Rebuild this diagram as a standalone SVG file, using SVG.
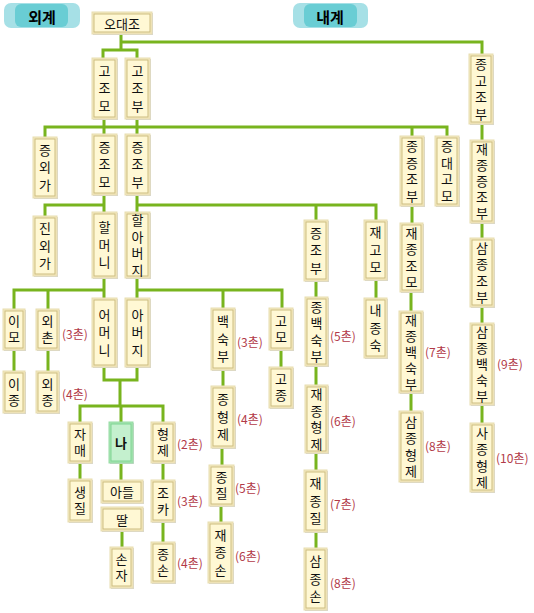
<svg xmlns="http://www.w3.org/2000/svg" width="534" height="613" viewBox="0 0 534 613">
<style>
.t{font-family:"Noto Sans CJK KR","Noto Sans",sans-serif;font-size:13px;text-anchor:middle;dominant-baseline:central;fill:#111}
.v{writing-mode:vertical-rl;text-orientation:upright}
.s2{letter-spacing:3px}
.s3{letter-spacing:4.5px}
.s4{letter-spacing:3.5px}
.s5{letter-spacing:3px}
.b{font-family:"Noto Sans CJK KR","Noto Sans",sans-serif;font-size:15px;font-weight:bold;text-anchor:middle;dominant-baseline:central;fill:#000}
.c{font-family:"Noto Sans CJK KR","Noto Sans",sans-serif;font-size:12px;fill:#B23A48;dominant-baseline:central}
.sh{fill:#D4D4D4}
.o{fill:#F3E8BE;stroke:#E8DDB0;stroke-width:1}
.i{fill:#FFF8D4;stroke:#CDBD80;stroke-width:1}
.go{fill:#A6E4B2;stroke:#96DCA4;stroke-width:1}
.gi{fill:#C4F0CE;stroke:#7FD492;stroke-width:1}
.ln{fill:none;stroke:#78B41E;stroke-width:3}
</style>
<rect width="534" height="613" fill="#fff"/>
<g id="badge-outer">
<rect x="4" y="3" width="76" height="25" rx="7" fill="#A6E0E6"/>
<rect x="15" y="4" width="53" height="23" rx="6" fill="#69CDD4"/>
<text class="b" x="42" y="16">외계</text>
</g>
<g id="badge-inner">
<rect x="293" y="3" width="75" height="25" rx="7" fill="#A6E0E6"/>
<rect x="304" y="4" width="53" height="23" rx="6" fill="#69CDD4"/>
<text class="b" x="330" y="16">내계</text>
</g>
<g id="connectors" class="ln">
<path d="M121,34V50M103,58V50H137V58M121,42H482V54"/>
<path d="M104,119V134M137,119V134M45,137V127H447V136M412,127V136M482,124V140"/>
<path d="M104,195V212M104,205H45V216M137,195V212M137,205H376V220M316,205V220M412,206V223M482,223V238"/>
<path d="M104,278V298M104,290H14V309M48,290V309M137,278V298M137,290H282V308M223,290V308M316,281V297M376,280V298M411,292V311M482,307V323"/>
<path d="M14,350V371M48,350V371M281,350V367M223,370V386M316,366V385M411,393V411M482,405V423"/>
<path d="M104,367V380H137V367M120,380V406M80,422V406H163V422M121,406V422"/>
<path d="M80,463V479M121,463V480M163,463V480M122,531V547M163,522V542M222,448V465M221,506V522M316,453V470M316,532V548"/>
</g>
<g id="n-odaejo"><rect class="sh" x="93" y="13" width="60" height="22"/><rect class="o" x="92" y="12" width="60" height="22"/><rect class="i" x="94" y="14" width="56" height="18"/><text class="t" x="122" y="23.5">오대조</text></g>
<g id="n-gojomo"><rect class="sh" x="93" y="59" width="25" height="61"/><rect class="o" x="92" y="58" width="25" height="61"/><rect class="i" x="94" y="60" width="21" height="57"/><text class="t v s3" x="104.5" y="90.75">고조모</text></g>
<g id="n-gojobu"><rect class="sh" x="126" y="59" width="25" height="61"/><rect class="o" x="125" y="58" width="25" height="61"/><rect class="i" x="127" y="60" width="21" height="57"/><text class="t v s3" x="137.5" y="90.75">고조부</text></g>
<g id="n-jonggojobu"><rect class="sh" x="470" y="55" width="24" height="70"/><rect class="o" x="469" y="54" width="24" height="70"/><rect class="i" x="471" y="56" width="20" height="66"/><text class="t v s4" x="481" y="90.75">종고조부</text></g>
<g id="n-jeungoega"><rect class="sh" x="34" y="138" width="24" height="61"/><rect class="o" x="33" y="137" width="24" height="61"/><rect class="i" x="35" y="139" width="20" height="57"/><text class="t v s3" x="45" y="169.75">증외가</text></g>
<g id="n-jeungjomo"><rect class="sh" x="93" y="135" width="25" height="61"/><rect class="o" x="92" y="134" width="25" height="61"/><rect class="i" x="94" y="136" width="21" height="57"/><text class="t v s3" x="104.5" y="166.75">증조모</text></g>
<g id="n-jeungjobu"><rect class="sh" x="126" y="135" width="25" height="61"/><rect class="o" x="125" y="134" width="25" height="61"/><rect class="i" x="127" y="136" width="21" height="57"/><text class="t v s3" x="137.5" y="166.75">증조부</text></g>
<g id="n-jongjeungjobu"><rect class="sh" x="401" y="137" width="24" height="70"/><rect class="o" x="400" y="136" width="24" height="70"/><rect class="i" x="402" y="138" width="20" height="66"/><text class="t v s4" x="412" y="172.75">종증조부</text></g>
<g id="n-jeungdaegomo"><rect class="sh" x="436" y="137" width="24" height="70"/><rect class="o" x="435" y="136" width="24" height="70"/><rect class="i" x="437" y="138" width="20" height="66"/><text class="t v s4" x="447" y="172.75">증대고모</text></g>
<g id="n-jaejongjeungjobu"><rect class="sh" x="471" y="141" width="24" height="83"/><rect class="o" x="470" y="140" width="24" height="83"/><rect class="i" x="472" y="142" width="20" height="79"/><text class="t v s5" x="482" y="183">재종증조부</text></g>
<g id="n-jinoega"><rect class="sh" x="34" y="217" width="24" height="60"/><rect class="o" x="33" y="216" width="24" height="60"/><rect class="i" x="35" y="218" width="20" height="56"/><text class="t v s3" x="45" y="248.25">진외가</text></g>
<g id="n-halmeoni"><rect class="sh" x="93" y="213" width="25" height="66"/><rect class="o" x="92" y="212" width="25" height="66"/><rect class="i" x="94" y="214" width="21" height="62"/><text class="t v s3" x="104.5" y="247.25">할머니</text></g>
<g id="n-harabeoji"><rect class="sh" x="126" y="213" width="25" height="66"/><rect class="o" x="125" y="212" width="25" height="66"/><rect class="i" x="127" y="214" width="21" height="62"/><text class="t v s4" x="137.5" y="246.75">할아버지</text></g>
<g id="n-jeungjobu2"><rect class="sh" x="305" y="221" width="24" height="61"/><rect class="o" x="304" y="220" width="24" height="61"/><rect class="i" x="306" y="222" width="20" height="57"/><text class="t v s3" x="316" y="252.75">증조부</text></g>
<g id="n-jaegomo"><rect class="sh" x="365" y="221" width="23" height="60"/><rect class="o" x="364" y="220" width="23" height="60"/><rect class="i" x="366" y="222" width="19" height="56"/><text class="t v s3" x="375.5" y="252.25">재고모</text></g>
<g id="n-jaejongjomo"><rect class="sh" x="401" y="224" width="23" height="69"/><rect class="o" x="400" y="223" width="23" height="69"/><rect class="i" x="402" y="225" width="19" height="65"/><text class="t v s4" x="411.5" y="259.25">재종조모</text></g>
<g id="n-samjongjobu"><rect class="sh" x="471" y="239" width="24" height="69"/><rect class="o" x="470" y="238" width="24" height="69"/><rect class="i" x="472" y="240" width="20" height="65"/><text class="t v s4" x="482" y="274.25">삼종조부</text></g>
<g id="n-imo"><rect class="sh" x="4" y="310" width="22" height="41"/><rect class="o" x="3" y="309" width="22" height="41"/><rect class="i" x="5" y="311" width="18" height="37"/><text class="t v s2" x="14" y="331">이모</text></g>
<g id="n-oechon"><rect class="sh" x="37" y="310" width="23" height="41"/><rect class="o" x="36" y="309" width="23" height="41"/><rect class="i" x="38" y="311" width="19" height="37"/><text class="t v s2" x="47.5" y="331">외촌</text></g>
<g id="n-eomeoni"><rect class="sh" x="93" y="299" width="25" height="69"/><rect class="o" x="92" y="298" width="25" height="69"/><rect class="i" x="94" y="300" width="21" height="65"/><text class="t v s3" x="104.5" y="334.75">어머니</text></g>
<g id="n-abeoji"><rect class="sh" x="126" y="299" width="25" height="69"/><rect class="o" x="125" y="298" width="25" height="69"/><rect class="i" x="127" y="300" width="21" height="65"/><text class="t v s3" x="137.5" y="334.75">아버지</text></g>
<g id="n-baeksukbu"><rect class="sh" x="212" y="309" width="24" height="62"/><rect class="o" x="211" y="308" width="24" height="62"/><rect class="i" x="213" y="310" width="20" height="58"/><text class="t v s3" x="223" y="341.25">백숙부</text></g>
<g id="n-gomo"><rect class="sh" x="270" y="309" width="24" height="42"/><rect class="o" x="269" y="308" width="24" height="42"/><rect class="i" x="271" y="310" width="20" height="38"/><text class="t v s2" x="281" y="330.5">고모</text></g>
<g id="n-jongbaeksukbu"><rect class="sh" x="306" y="298" width="23" height="69"/><rect class="o" x="305" y="297" width="23" height="69"/><rect class="i" x="307" y="299" width="19" height="65"/><text class="t v s4" x="316.5" y="333.25">종백숙부</text></g>
<g id="n-naejongsuk"><rect class="sh" x="365" y="299" width="23" height="60"/><rect class="o" x="364" y="298" width="23" height="60"/><rect class="i" x="366" y="300" width="19" height="56"/><text class="t v s3" x="375.5" y="330.25">내종숙</text></g>
<g id="n-jaejongbaeksukbu"><rect class="sh" x="400" y="312" width="24" height="82"/><rect class="o" x="399" y="311" width="24" height="82"/><rect class="i" x="401" y="313" width="20" height="78"/><text class="t v s5" x="411" y="353.5">재종백숙부</text></g>
<g id="n-samjongbaeksukbu"><rect class="sh" x="471" y="324" width="24" height="82"/><rect class="o" x="470" y="323" width="24" height="82"/><rect class="i" x="472" y="325" width="20" height="78"/><text class="t v s5" x="482" y="365.5">삼종백숙부</text></g>
<g id="n-ijong"><rect class="sh" x="4" y="372" width="22" height="42"/><rect class="o" x="3" y="371" width="22" height="42"/><rect class="i" x="5" y="373" width="18" height="38"/><text class="t v s2" x="14" y="393.5">이종</text></g>
<g id="n-oejong"><rect class="sh" x="37" y="372" width="23" height="42"/><rect class="o" x="36" y="371" width="23" height="42"/><rect class="i" x="38" y="373" width="19" height="38"/><text class="t v s2" x="47.5" y="393.5">외종</text></g>
<g id="n-gojong"><rect class="sh" x="270" y="368" width="24" height="41"/><rect class="o" x="269" y="367" width="24" height="41"/><rect class="i" x="271" y="369" width="20" height="37"/><text class="t v s2" x="281" y="389">고종</text></g>
<g id="n-jonghyeongje"><rect class="sh" x="212" y="387" width="24" height="62"/><rect class="o" x="211" y="386" width="24" height="62"/><rect class="i" x="213" y="388" width="20" height="58"/><text class="t v s3" x="223" y="419.25">종형제</text></g>
<g id="n-jaejonghyeongje"><rect class="sh" x="306" y="386" width="23" height="68"/><rect class="o" x="305" y="385" width="23" height="68"/><rect class="i" x="307" y="387" width="19" height="64"/><text class="t v s4" x="316.5" y="420.75">재종형제</text></g>
<g id="n-samjonghyeongje"><rect class="sh" x="400" y="412" width="24" height="71"/><rect class="o" x="399" y="411" width="24" height="71"/><rect class="i" x="401" y="413" width="20" height="67"/><text class="t v s4" x="411" y="448.25">삼종형제</text></g>
<g id="n-sajonghyeongje"><rect class="sh" x="471" y="424" width="24" height="69"/><rect class="o" x="470" y="423" width="24" height="69"/><rect class="i" x="472" y="425" width="20" height="65"/><text class="t v s4" x="482" y="459.25">사종형제</text></g>
<g id="n-jamae"><rect class="sh" x="69" y="423" width="24" height="41"/><rect class="o" x="68" y="422" width="24" height="41"/><rect class="i" x="70" y="424" width="20" height="37"/><text class="t v s2" x="80" y="444">자매</text></g>
<g id="n-na"><rect class="sh" x="110" y="423" width="24" height="41"/><rect class="go" x="109" y="422" width="24" height="41"/><rect class="gi" x="111" y="424" width="20" height="37"/><text class="t" x="121" y="442.5" font-weight="bold">나</text></g>
<g id="n-hyeongje"><rect class="sh" x="152" y="423" width="24" height="41"/><rect class="o" x="151" y="422" width="24" height="41"/><rect class="i" x="153" y="424" width="20" height="37"/><text class="t v s2" x="163" y="444">형제</text></g>
<g id="n-saengjil"><rect class="sh" x="69" y="480" width="24" height="43"/><rect class="o" x="68" y="479" width="24" height="43"/><rect class="i" x="70" y="481" width="20" height="39"/><text class="t v s2" x="80" y="502">생질</text></g>
<g id="n-adeul"><rect class="sh" x="102" y="481" width="42" height="23"/><rect class="o" x="101" y="480" width="42" height="23"/><rect class="i" x="103" y="482" width="38" height="19"/><text class="t" x="122" y="491.5">아들</text></g>
<g id="n-ttal"><rect class="sh" x="102" y="508" width="42" height="24"/><rect class="o" x="101" y="507" width="42" height="24"/><rect class="i" x="103" y="509" width="38" height="20"/><text class="t" x="122" y="519">딸</text></g>
<g id="n-joka"><rect class="sh" x="152" y="481" width="24" height="42"/><rect class="o" x="151" y="480" width="24" height="42"/><rect class="i" x="153" y="482" width="20" height="38"/><text class="t v s2" x="163" y="502.5">조카</text></g>
<g id="n-jongjil"><rect class="sh" x="210" y="466" width="25" height="41"/><rect class="o" x="209" y="465" width="25" height="41"/><rect class="i" x="211" y="467" width="21" height="37"/><text class="t v s2" x="221.5" y="487">종질</text></g>
<g id="n-jaejongjil"><rect class="sh" x="305" y="471" width="23" height="62"/><rect class="o" x="304" y="470" width="23" height="62"/><rect class="i" x="306" y="472" width="19" height="58"/><text class="t v s3" x="315.5" y="503.25">재종질</text></g>
<g id="n-sonja"><rect class="sh" x="111" y="548" width="23" height="41"/><rect class="o" x="110" y="547" width="23" height="41"/><rect class="i" x="112" y="549" width="19" height="37"/><text class="t v s2" x="121.5" y="569">손자</text></g>
<g id="n-jongson"><rect class="sh" x="152" y="543" width="24" height="41"/><rect class="o" x="151" y="542" width="24" height="41"/><rect class="i" x="153" y="544" width="20" height="37"/><text class="t v s2" x="163" y="564">종손</text></g>
<g id="n-jaejongson"><rect class="sh" x="209" y="523" width="25" height="61"/><rect class="o" x="208" y="522" width="25" height="61"/><rect class="i" x="210" y="524" width="21" height="57"/><text class="t v s3" x="220.5" y="554.75">재종손</text></g>
<g id="n-samjongson"><rect class="sh" x="305" y="549" width="23" height="62"/><rect class="o" x="304" y="548" width="23" height="62"/><rect class="i" x="306" y="550" width="19" height="58"/><text class="t v s3" x="315.5" y="581.25">삼종손</text></g>
<g id="chon-labels">
<text class="c" x="62" y="333">(3촌)</text>
<text class="c" x="62" y="393">(4촌)</text>
<text class="c" x="237" y="341">(3촌)</text>
<text class="c" x="237" y="418">(4촌)</text>
<text class="c" x="235" y="487">(5촌)</text>
<text class="c" x="235" y="555">(6촌)</text>
<text class="c" x="330" y="335">(5촌)</text>
<text class="c" x="330" y="420">(6촌)</text>
<text class="c" x="330" y="503">(7촌)</text>
<text class="c" x="330" y="582">(8촌)</text>
<text class="c" x="425" y="351">(7촌)</text>
<text class="c" x="425" y="445">(8촌)</text>
<text class="c" x="497" y="363">(9촌)</text>
<text class="c" x="496" y="457">(10촌)</text>
<text class="c" x="177" y="443">(2촌)</text>
<text class="c" x="177" y="500">(3촌)</text>
<text class="c" x="177" y="562">(4촌)</text>
</g>
</svg>
